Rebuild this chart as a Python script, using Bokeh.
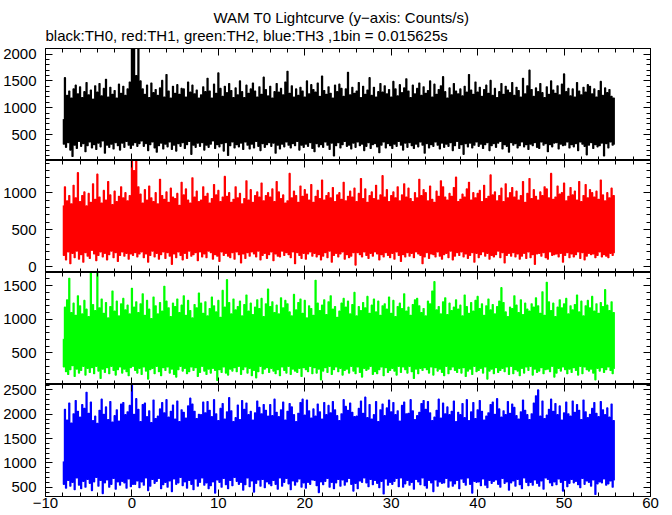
import numpy as np
from bokeh.plotting import figure
from bokeh.models import Range1d, LinearAxis, SingleIntervalTicker, Title
from bokeh.layouts import column
from bokeh.embed import file_html
from bokeh.resources import INLINE

# time bins (s) of the resampled lightcurve
t_start = -8.0
t_step = 0.125

# TH0 (black) counts/s, one row = 1 s
th0 = [780, 320, 1560, 260, 1230, 350, 1310, 210,
       1180, 90, 1350, 300, 1420, 240, 1260, 370,
       1390, 280, 1190, 330, 1300, 180, 1470, 290,
       1240, 360, 1330, 250, 1160, 310, 1410, 220,
       1290, 340, 1450, 270, 1220, 380, 1360, 150,
       1530, 300, 1200, 260, 1380, 320, 1250, 230,
       1320, 350, 1180, 290, 1440, 210, 1270, 340,
       1400, 260, 1230, 370, 1350, 300, 1480, 240,
       2350, 300, 2450, 350, 1600, 280, 2300, 330,
       1500, 380, 1350, 280, 1250, 330, 1420, 200,
       1190, 310, 1460, 360, 1280, 250, 1340, 170,
       1230, 290, 1370, 340, 1510, 230, 1200, 320,
       1620, 270, 1310, 360, 1180, 220, 1400, 300,
       1270, 190, 1430, 330, 1250, 280, 1360, 350,
       1350, 240, 1200, 310, 1480, 370, 1290, 130,
       1420, 300, 1260, 260, 1330, 340, 1180, 280,
       1240, 350, 1390, 210, 1300, 300, 1550, 260,
       1310, 320, 1180, 380, 1440, 240, 1270, 310,
       1650, 270, 1360, 330, 1210, 190, 1400, 350,
       1280, 110, 1450, 290, 1320, 360, 1190, 250,
       1370, 310, 1240, 270, 1500, 340, 1300, 220,
       1190, 360, 1420, 300, 1270, 230, 1350, 320,
       1460, 250, 1310, 370, 1200, 280, 1390, 200,
       1250, 330, 1570, 260, 1340, 310, 1220, 350,
       1400, 280, 1180, 340, 1300, 150, 1450, 300,
       1290, 230, 1360, 320, 1240, 270, 1480, 360,
       1680, 300, 1270, 250, 1410, 330, 1200, 290,
       1350, 370, 1230, 210, 1380, 300, 1310, 260,
       1200, 320, 1500, 280, 1260, 350, 1430, 240,
       1340, 180, 1290, 330, 1460, 270, 1210, 310,
       1590, 260, 1320, 360, 1250, 300, 1390, 220,
       1270, 340, 1180, 100, 1420, 290, 1300, 350,
       1440, 250, 1360, 310, 1210, 370, 1350, 280,
       1660, 300, 1240, 230, 1380, 340, 1270, 260,
       1310, 360, 1470, 290, 1190, 320, 1400, 200,
       1250, 280, 1330, 350, 1560, 240, 1230, 310,
       1380, 330, 1200, 270, 1300, 160, 1450, 300,
       1290, 360, 1410, 250, 1260, 330, 1340, 290,
       1200, 240, 1490, 320, 1350, 280, 1220, 370,
       1430, 300, 1280, 210, 1370, 340, 1540, 260,
       1310, 350, 1190, 290, 1420, 240, 1260, 320,
       1360, 270, 1460, 360, 1230, 300, 1390, 150,
       1270, 330, 1320, 250, 1500, 310, 1200, 280,
       1440, 360, 1250, 300, 1340, 230, 1410, 340,
       1580, 260, 1300, 320, 1180, 280, 1370, 350,
       1240, 200, 1450, 290, 1310, 370, 1260, 240,
       1350, 310, 1220, 130, 1400, 330, 1290, 270,
       1620, 340, 1330, 250, 1250, 300, 1480, 360,
       1290, 280, 1380, 320, 1210, 240, 1340, 310,
       1420, 350, 1270, 200, 1510, 290, 1230, 330,
       1360, 260, 1190, 340, 1300, 370, 1450, 230,
       1250, 310, 1400, 280, 1330, 170, 1280, 350,
       1470, 300, 1230, 330, 1380, 250, 1320, 290,
       1200, 360, 1550, 270, 1260, 310, 1410, 220,
       1700, 320, 1340, 290, 1210, 350, 1370, 260,
       1300, 240, 1450, 360, 1280, 300, 1190, 330,
       1390, 180, 1250, 310, 1500, 270, 1330, 340,
       1270, 350, 1410, 230, 1240, 320, 1440, 290,
       1630, 300, 1300, 360, 1360, 250, 1220, 310,
       1350, 270, 1200, 330, 1470, 200, 1310, 360,
       1240, 320, 1380, 280, 1290, 120, 1430, 300,
       1400, 350, 1260, 240, 1350, 310, 1200, 270,
       1320, 290, 1490, 340, 1230, 100, 1370, 330,
       1280, 250, 1340, 360, 1210, 300, 1180, 320]

# TH1 (red) counts/s
th1 = [820, 150, 1080, 90, 890, 200, 960, 40,
       850, 180, 1100, 120, 930, 210, 1270, 100,
       880, 160, 960, 60, 1010, 190, 820, 140,
       990, 110, 870, 220, 1120, 170, 910, 80,
       1250, 150, 940, 200, 860, 130, 1030, 180,
       900, 90, 1150, 160, 970, 210, 840, 120,
       1020, 190, 880, 70, 950, 150, 1080, 200,
       930, 140, 1000, 180, 890, 100, 960, 170,
       1600, 150, 1300, 190, 1550, 130, 1080, 170,
       980, 200, 860, 120, 1040, 170, 900, 60,
       1090, 150, 930, 210, 880, 130, 1000, 180,
       850, 100, 1180, 160, 960, 200, 910, 110,
       1010, 190, 870, 140, 1060, 30, 940, 170,
       920, 120, 990, 200, 830, 150, 1140, 90,
       970, 180, 1050, 110, 900, 210, 860, 140,
       1200, 160, 940, 190, 1020, 80, 880, 200,
       900, 130, 1080, 170, 950, 120, 990, 210,
       860, 190, 920, 100, 1110, 160, 970, 140,
       1030, 70, 880, 200, 940, 150, 1220, 180,
       950, 140, 1000, 120, 870, 190, 910, 100,
       1080, 200, 930, 160, 990, 50, 850, 170,
       920, 110, 1160, 190, 900, 140, 1040, 200,
       870, 170, 960, 130, 1010, 210, 940, 90,
       1130, 150, 890, 180, 960, 110, 1000, 160,
       940, 200, 1050, 80, 880, 170, 1150, 140,
       1010, 130, 920, 210, 970, 150, 860, 190,
       890, 160, 1260, 120, 930, 200, 1020, 40,
       960, 190, 870, 150, 1090, 110, 950, 180,
       1040, 100, 980, 170, 900, 200, 1110, 140,
       870, 180, 950, 130, 1030, 160, 920, 90,
       1170, 140, 900, 190, 960, 120, 1000, 210,
       930, 60, 1070, 150, 880, 180, 970, 130,
       1000, 170, 910, 200, 1140, 100, 890, 160,
       950, 120, 1020, 140, 940, 190, 1060, 20,
       880, 190, 990, 160, 1190, 130, 920, 200,
       1050, 150, 870, 110, 960, 180, 1010, 140,
       920, 200, 1100, 170, 900, 90, 970, 160,
       1230, 130, 940, 190, 1040, 150, 880, 120,
       960, 180, 1010, 100, 930, 200, 1080, 150,
       890, 70, 970, 160, 1120, 130, 940, 190,
       1060, 140, 920, 180, 880, 120, 1000, 200,
       930, 170, 1180, 150, 960, 40, 1040, 130,
       1000, 190, 890, 110, 1090, 170, 910, 160,
       870, 130, 1020, 200, 950, 140, 1160, 100,
       1080, 160, 940, 180, 900, 120, 990, 210,
       950, 90, 1070, 140, 1210, 190, 880, 150,
       910, 200, 980, 130, 940, 170, 1050, 110,
       1140, 150, 900, 190, 1000, 60, 930, 180,
       990, 120, 1030, 160, 880, 200, 1100, 140,
       920, 180, 950, 100, 1240, 150, 970, 130,
       1010, 160, 890, 210, 960, 120, 1060, 190,
       880, 50, 1120, 150, 930, 180, 1000, 140,
       1070, 190, 940, 130, 1020, 170, 900, 100,
       960, 140, 1150, 180, 870, 110, 990, 200,
       1190, 120, 920, 160, 1040, 30, 950, 170,
       900, 180, 1010, 140, 960, 190, 1080, 120,
       1050, 100, 930, 200, 1260, 150, 910, 160,
       940, 170, 1090, 130, 980, 180, 1000, 60,
       1130, 150, 890, 190, 950, 120, 1070, 170,
       970, 130, 1020, 160, 900, 200, 1150, 110,
       880, 190, 960, 90, 1110, 140, 930, 180,
       1040, 160, 1000, 170, 940, 120, 1020, 150,
       910, 200, 1170, 130, 970, 160, 890, 140,
       1000, 120, 930, 180, 1060, 150, 960, 190]

# TH2 (green) counts/s
th2 = [700, 290, 1180, 220, 1290, 180, 1610, 250,
       1100, 310, 1240, 150, 1060, 260, 1350, 200,
       1200, 240, 1080, 300, 1280, 170, 1150, 270,
       1040, 210, 1760, 280, 1220, 190, 1130, 300,
       1790, 230, 1170, 120, 1300, 260, 1090, 210,
       1250, 280, 1020, 190, 1190, 300, 1420, 240,
       1120, 170, 1270, 250, 1050, 290, 1230, 200,
       1310, 260, 1140, 220, 1210, 160, 1080, 280,
       1460, 300, 1180, 240, 1260, 200, 1100, 270,
       1230, 180, 1380, 290, 1060, 230, 1280, 110,
       1150, 250, 1010, 270, 1330, 190, 1200, 300,
       1080, 220, 1250, 160, 1120, 280, 1490, 240,
       1270, 290, 1170, 200, 1040, 260, 1240, 180,
       1190, 140, 1300, 250, 1100, 300, 1210, 230,
       1350, 270, 1060, 190, 1280, 220, 1130, 290,
       1020, 240, 1220, 280, 1170, 150, 1390, 210,
       1240, 300, 1090, 230, 1260, 180, 1050, 260,
       1160, 200, 1330, 270, 1200, 240, 1110, 90,
       1280, 250, 1030, 210, 1430, 290, 1180, 200,
       1590, 170, 1250, 260, 1080, 230, 1300, 280,
       1140, 220, 1190, 300, 1270, 180, 1050, 250,
       1220, 290, 1360, 200, 1120, 270, 1240, 160,
       1070, 240, 1180, 130, 1290, 220, 1160, 300,
       1310, 190, 1040, 260, 1230, 280, 1450, 210,
       1190, 270, 1260, 230, 1100, 190, 1210, 250,
       1080, 160, 1320, 290, 1170, 240, 1280, 200,
       1230, 300, 1110, 180, 1050, 260, 1370, 230,
       1140, 210, 1250, 270, 1300, 150, 1090, 280,
       1280, 250, 1020, 220, 1200, 300, 1160, 190,
       1060, 280, 1580, 200, 1240, 260, 1130, 100,
       1210, 230, 1290, 280, 1070, 210, 1260, 300,
       1350, 180, 1150, 250, 1190, 290, 1030, 220,
       1120, 270, 1240, 170, 1310, 240, 1180, 260,
       1270, 200, 1080, 300, 1220, 230, 1400, 190,
       1050, 290, 1190, 210, 1130, 140, 1250, 270,
       1170, 240, 1340, 260, 1090, 300, 1210, 180,
       1300, 220, 1110, 190, 1270, 250, 1060, 290,
       1200, 160, 1230, 280, 1150, 210, 1330, 240,
       1090, 270, 1280, 230, 1040, 170, 1190, 300,
       1240, 210, 1160, 290, 1380, 250, 1120, 200,
       1180, 300, 1060, 220, 1220, 120, 1290, 260,
       1310, 190, 1200, 270, 1100, 240, 1160, 280,
       1050, 250, 1270, 200, 1230, 290, 1420, 170,
       1560, 280, 1140, 230, 1190, 260, 1080, 210,
       1260, 160, 1320, 300, 1070, 190, 1240, 250,
       1130, 290, 1180, 240, 1290, 210, 1150, 270,
       1210, 200, 1050, 280, 1360, 150, 1190, 230,
       1090, 260, 1250, 180, 1120, 300, 1280, 220,
       1340, 240, 1160, 270, 1230, 200, 1060, 290,
       1200, 110, 1300, 230, 1140, 260, 1220, 190,
       1080, 280, 1190, 210, 1270, 240, 1470, 270,
       1250, 220, 1110, 290, 1040, 180, 1180, 300,
       1160, 190, 1350, 250, 1210, 230, 1100, 160,
       1290, 270, 1070, 200, 1240, 290, 1150, 240,
       1120, 300, 1230, 170, 1180, 260, 1320, 210,
       1200, 230, 1090, 280, 1410, 190, 1060, 250,
       1550, 260, 1260, 220, 1130, 300, 1240, 140,
       1040, 200, 1180, 270, 1290, 230, 1170, 290,
       1230, 250, 1310, 190, 1080, 260, 1200, 210,
       1140, 280, 1220, 240, 1360, 170, 1110, 300,
       1270, 190, 1050, 290, 1200, 250, 1280, 230,
       1170, 260, 1340, 200, 1120, 100, 1230, 270,
       1090, 230, 1250, 280, 1190, 210, 1440, 250,
       1210, 290, 1130, 240, 1260, 190, 1100, 270]

# TH3 (blue) counts/s
th3 = [1020, 560, 2100, 480, 1880, 640, 2230, 520,
       1820, 600, 2010, 450, 2280, 690, 2060, 540,
       1940, 470, 2200, 620, 2120, 500, 2450, 660,
       2020, 580, 2250, 430, 1870, 610, 1960, 700,
       1810, 520, 2080, 640, 2310, 370, 2000, 590,
       2150, 650, 1890, 500, 2260, 560, 1840, 680,
       1970, 460, 2090, 610, 1860, 540, 2210, 620,
       2240, 590, 1990, 480, 2050, 670, 2180, 510,
       2650, 560, 2000, 560, 2320, 630, 2100, 490,
       1850, 610, 2200, 540, 2230, 690, 1950, 430,
       2070, 520, 1830, 660, 2290, 580, 1910, 620,
       1960, 680, 2110, 470, 2240, 550, 2030, 600,
       2300, 500, 1940, 630, 2060, 410, 2190, 670,
       1900, 560, 2270, 590, 1850, 700, 2090, 530,
       2040, 610, 1920, 480, 2170, 640, 2330, 560,
       2210, 450, 2060, 670, 1910, 520, 2000, 600,
       1990, 690, 2250, 540, 2030, 590, 2260, 470,
       2080, 530, 1950, 610, 2300, 380, 2010, 650,
       1870, 600, 2120, 500, 2220, 680, 1900, 550,
       2050, 470, 2340, 640, 2070, 530, 1850, 700,
       1930, 620, 2190, 560, 1890, 600, 2280, 440,
       2100, 550, 2230, 690, 1990, 510, 2060, 630,
       1880, 400, 2030, 580, 2270, 650, 2140, 520,
       2010, 660, 2200, 490, 2080, 610, 1960, 570,
       2200, 530, 1970, 640, 2310, 560, 2040, 460,
       1950, 690, 2090, 520, 2250, 600, 1880, 680,
       2060, 570, 2220, 450, 2150, 630, 1990, 540,
       1850, 610, 2020, 670, 2240, 500, 2310, 590,
       1980, 480, 2290, 600, 2070, 560, 1920, 650,
       2110, 640, 1960, 530, 2210, 390, 2050, 610,
       1900, 550, 2240, 620, 1990, 680, 2180, 500,
       2030, 600, 2260, 470, 2090, 590, 1970, 660,
       1870, 520, 2010, 650, 2300, 540, 2160, 610,
       2080, 680, 2230, 560, 2040, 420, 1950, 580,
       1960, 470, 2120, 630, 2270, 600, 2020, 690,
       2350, 590, 1930, 510, 2200, 660, 1900, 550,
       1990, 640, 2260, 580, 1850, 490, 2090, 620,
       2210, 360, 1970, 670, 2130, 540, 2290, 600,
       2050, 560, 2240, 620, 1990, 680, 2070, 510,
       1860, 690, 2180, 500, 2250, 570, 2010, 640,
       2020, 540, 2300, 600, 2070, 460, 1890, 660,
       1970, 610, 2040, 550, 2220, 690, 2280, 530,
       2100, 480, 2260, 640, 2030, 590, 1870, 410,
       1940, 650, 2080, 520, 2310, 610, 1920, 580,
       2230, 590, 2010, 680, 2150, 500, 1990, 630,
       2060, 520, 2270, 570, 1850, 640, 2040, 470,
       1990, 670, 2220, 600, 1930, 540, 2300, 690,
       1870, 560, 2050, 380, 2240, 620, 1910, 600,
       2090, 610, 2280, 530, 2060, 670, 1880, 540,
       1960, 490, 2030, 640, 2200, 580, 2250, 620,
       2000, 650, 2320, 560, 2110, 500, 1940, 680,
       2070, 580, 1990, 610, 2260, 440, 2020, 590,
       2210, 630, 2140, 520, 1970, 660, 1900, 550,
       2050, 470, 2290, 690, 2080, 600, 1990, 530,
       1890, 600, 2010, 540, 2230, 650, 2380, 580,
       2500, 520, 1960, 630, 2270, 460, 1910, 690,
       1980, 660, 2100, 590, 2310, 530, 2060, 610,
       2220, 550, 1990, 670, 2170, 600, 1880, 420,
       2030, 640, 2250, 510, 2010, 580, 1960, 660,
       2270, 590, 2040, 620, 2200, 550, 2080, 490,
       1890, 680, 2290, 560, 2050, 630, 1930, 600,
       2000, 520, 2120, 650, 2240, 350, 2020, 570,
       1950, 610, 2260, 590, 2090, 670, 1990, 540,
       2130, 570, 1940, 630, 2210, 500, 1870, 650]

series = [th0, th1, th2, th3]
colors = ["#000000", "#ff0000", "#00ff00", "#0000ff"]
y_limits = [(15, 2105), (-80, 1435), (30, 1696), (309, 2611)]

title_text = "WAM T0 Lightcurve (y\u2212axis: Counts/s)"
subtitle_text = "black:TH0, red:TH1, green:TH2, blue:TH3 ,1bin = 0.015625s"

FONT = "Liberation Sans"
FS = "15px"

x_range = Range1d(-10, 60)

W = 672
FRAME_H = 112
TOP_AREA = 48
BOTTOM_AREA = 19


def style_axis(ax, show_labels, standoff=3):
    ax.axis_line_color = "black"
    ax.axis_line_width = 1
    ax.major_tick_in = 7
    ax.major_tick_out = 0
    ax.minor_tick_in = 4
    ax.minor_tick_out = 0
    ax.major_tick_line_color = "black"
    ax.major_tick_line_width = 1
    ax.minor_tick_line_color = "black"
    ax.minor_tick_line_width = 1
    if show_labels:
        ax.major_label_text_font = FONT
        ax.major_label_text_font_size = FS
        ax.major_label_text_color = "black"
        ax.major_label_standoff = standoff
    else:
        ax.major_label_text_font_size = "0px"
        ax.major_label_standoff = 0


figs = []
n = len(series)
for i, (vals, col, yl) in enumerate(zip(series, colors, y_limits)):
    top_b = TOP_AREA if i == 0 else 0
    bot_b = BOTTOM_AREA if i == n - 1 else 0
    p = figure(width=W, height=FRAME_H + top_b + bot_b,
               x_range=x_range, y_range=Range1d(*yl),
               x_axis_location=None, y_axis_location=None,
               output_backend="svg", toolbar_location=None,
               min_border_left=45, min_border_right=22,
               min_border_top=top_b, min_border_bottom=bot_b)
    p.grid.visible = False
    p.outline_line_color = "black"
    p.outline_line_width = 1
    p.background_fill_color = "white"
    p.border_fill_color = "white"

    times = t_start + t_step * np.arange(len(vals))
    p.step(times, vals, mode="center", line_color=col, line_width=1.2)

    left = LinearAxis(ticker=SingleIntervalTicker(interval=500, num_minor_ticks=5))
    style_axis(left, True, standoff=9)
    p.add_layout(left, "left")

    right = LinearAxis(ticker=SingleIntervalTicker(interval=500, num_minor_ticks=5))
    style_axis(right, False)
    p.add_layout(right, "right")

    top = LinearAxis(ticker=SingleIntervalTicker(interval=10, num_minor_ticks=5))
    style_axis(top, False)
    p.add_layout(top, "above")

    bottom = LinearAxis(ticker=SingleIntervalTicker(interval=10, num_minor_ticks=5))
    style_axis(bottom, i == n - 1, standoff=1)
    if i == n - 1:
        bottom.major_label_overrides = {-10: "\u221210"}
    p.add_layout(bottom, "below")

    if i == 0:
        p.title = Title(text=title_text, align="left", offset=168,
                        text_font=FONT, text_font_size=FS,
                        text_font_style="normal", text_color="black",
                        standoff=-10)
        p.add_layout(Title(text=subtitle_text, align="left", text_font=FONT,
                           text_font_size=FS, text_font_style="normal",
                           text_color="black", standoff=9), "above")
    figs.append(p)

layout = column(*figs, spacing=0)
open("out.html", "w").write(file_html(layout, INLINE))
